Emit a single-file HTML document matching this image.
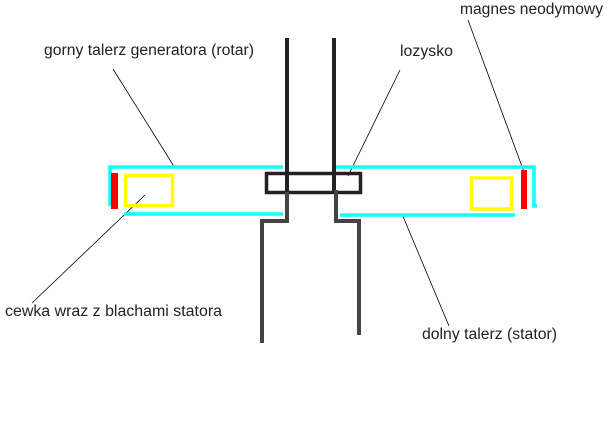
<!DOCTYPE html>
<html><head><meta charset="utf-8"><style>
html,body{margin:0;padding:0;background:#fff;}
svg{display:block}
text{font-family:"Liberation Sans",sans-serif;font-size:15.5px;fill:#222}
</style></head><body>
<svg width="614" height="439" viewBox="0 0 614 439" xmlns="http://www.w3.org/2000/svg">
<g stroke="#000" stroke-width="0.8" fill="none">
<line x1="113" y1="69" x2="175" y2="168"/>
<line x1="400" y1="70" x2="348" y2="176"/>
<line x1="468" y1="20" x2="524" y2="172"/>
<line x1="145" y1="195" x2="32" y2="303"/>
<line x1="402" y1="214" x2="449" y2="326"/>
</g>
<g stroke="#1ff" stroke-width="3.5" fill="none">
<polyline points="110,206 110,167 283,167"/>
<polyline points="335,167 534,167 534,206 537,206"/>
<line x1="124" y1="214" x2="283" y2="214"/>
<line x1="340" y1="215" x2="515" y2="215"/>
</g>
<rect x="111" y="173" width="7" height="36" fill="#f00"/>
<rect x="521" y="170" width="6" height="39" fill="#f00"/>
<rect x="125.5" y="175.5" width="47" height="30" fill="none" stroke="#ff0" stroke-width="3.5"/>
<rect x="471.5" y="178" width="40" height="31" fill="none" stroke="#ff0" stroke-width="3.5"/>
<g stroke="#222" stroke-width="4" fill="none">
<line x1="287" y1="38" x2="287" y2="193"/>
<line x1="334" y1="38" x2="334" y2="193"/>
<rect x="266.5" y="173.5" width="94" height="19" stroke-width="3.5"/>
</g>
<g stroke="#444" stroke-width="4" fill="none">
<polyline points="287,192 287,221 262,221 262,343"/>
<polyline points="336,190 336,221 359,221 359,335"/>
</g>
<text x="460" y="14" textLength="143" lengthAdjust="spacingAndGlyphs">magnes neodymowy</text>
<text x="44" y="55" textLength="210" lengthAdjust="spacingAndGlyphs">gorny talerz generatora (rotar)</text>
<text x="400" y="56" textLength="53" lengthAdjust="spacingAndGlyphs">lozysko</text>
<text x="5" y="316" textLength="217" lengthAdjust="spacingAndGlyphs">cewka wraz z blachami statora</text>
<text x="422" y="339" textLength="135" lengthAdjust="spacingAndGlyphs">dolny talerz (stator)</text>
</svg>
</body></html>
